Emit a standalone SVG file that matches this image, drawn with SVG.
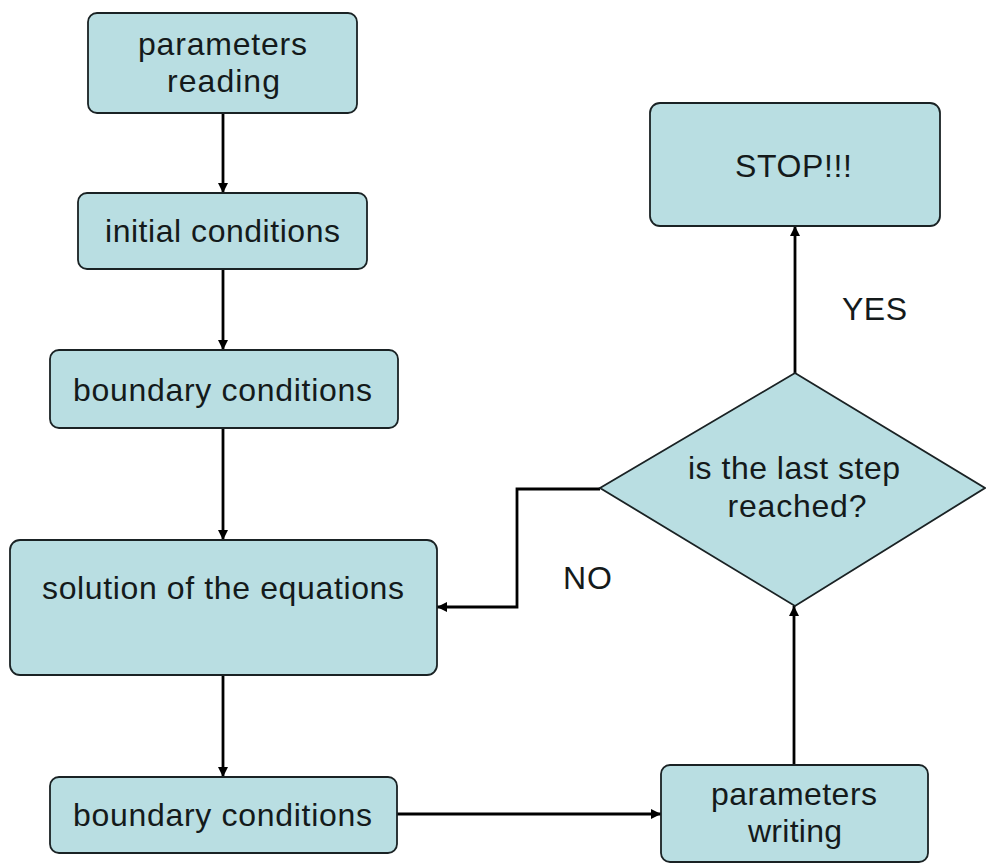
<svg xmlns="http://www.w3.org/2000/svg" width="986" height="864" viewBox="0 0 986 864">
<style>
.box{fill:#b9dee2;stroke:#1a2224;stroke-width:1.8}
.t{font-family:"Liberation Sans",Arial,sans-serif;font-size:32px;fill:#141a1b;text-anchor:middle}
.lbl{font-family:"Liberation Sans",Arial,sans-serif;font-size:32px;fill:#141a1b}
.c{fill:none;stroke:#000;stroke-width:2.8}
</style>
<defs>
<marker id="ah" viewBox="0 0 10 10" refX="10" refY="5" markerWidth="3.6" markerHeight="3.6" orient="auto" markerUnits="strokeWidth">
<path d="M0,0 L10,5 L0,10 z" fill="#000"/>
</marker>
</defs>
<rect width="986" height="864" fill="#fff"/>
<g id="connectors">
<line class="c" x1="223" y1="113" x2="223" y2="193" marker-end="url(#ah)"/>
<line class="c" x1="223" y1="269" x2="223" y2="350" marker-end="url(#ah)"/>
<line class="c" x1="223" y1="428" x2="223" y2="540" marker-end="url(#ah)"/>
<line class="c" x1="223" y1="675" x2="223" y2="777" marker-end="url(#ah)"/>
<line class="c" x1="397" y1="814" x2="661" y2="814" marker-end="url(#ah)"/>
<line class="c" x1="794" y1="765" x2="794" y2="606" marker-end="url(#ah)"/>
<line class="c" x1="795" y1="373" x2="795" y2="226" marker-end="url(#ah)"/>
<polyline class="c" points="600,489 517,489 517,607 437,607" marker-end="url(#ah)"/>
</g>
<g id="n1">
<rect class="box" x="88" y="13" width="269" height="100" rx="9"/>
<text class="t" x="222.5" y="55" textLength="169" lengthAdjust="spacing">parameters</text>
<text class="t" x="223.5" y="92" textLength="113" lengthAdjust="spacing">reading</text>
</g>
<g id="n2">
<rect class="box" x="78" y="193" width="289" height="76" rx="9"/>
<text class="t" x="222.5" y="242" textLength="235" lengthAdjust="spacing">initial conditions</text>
</g>
<g id="n3">
<rect class="box" x="50" y="350" width="348" height="78" rx="9"/>
<text class="t" x="222.5" y="401" textLength="299" lengthAdjust="spacing">boundary conditions</text>
</g>
<g id="n4">
<rect class="box" x="10" y="540" width="427" height="135" rx="10"/>
<text class="t" x="223" y="599" textLength="362" lengthAdjust="spacing">solution of the equations</text>
</g>
<g id="n5">
<rect class="box" x="50" y="777" width="347" height="76" rx="9"/>
<text class="t" x="222.5" y="826" textLength="299" lengthAdjust="spacing">boundary conditions</text>
</g>
<g id="n6">
<rect class="box" x="661" y="765" width="267" height="97" rx="9"/>
<text class="t" x="794" y="805" textLength="166" lengthAdjust="spacing">parameters</text>
<text class="t" x="795" y="842" textLength="94" lengthAdjust="spacing">writing</text>
</g>
<g id="n7">
<rect class="box" x="650" y="103" width="290" height="123" rx="10"/>
<text class="t" x="793.5" y="177" textLength="117" lengthAdjust="spacing">STOP!!!</text>
</g>
<g id="n8">
<polygon class="box" points="795,373 985,488 795,606 600,488"/>
<text class="t" x="794" y="479" textLength="212" lengthAdjust="spacing">is the last step</text>
<text class="t" x="797" y="517" textLength="139" lengthAdjust="spacing">reached?</text>
</g>
<g id="labels">
<text class="lbl" x="842" y="320" textLength="65" lengthAdjust="spacing">YES</text>
<text class="lbl" x="563" y="589" textLength="49" lengthAdjust="spacing">NO</text>
</g>
</svg>
